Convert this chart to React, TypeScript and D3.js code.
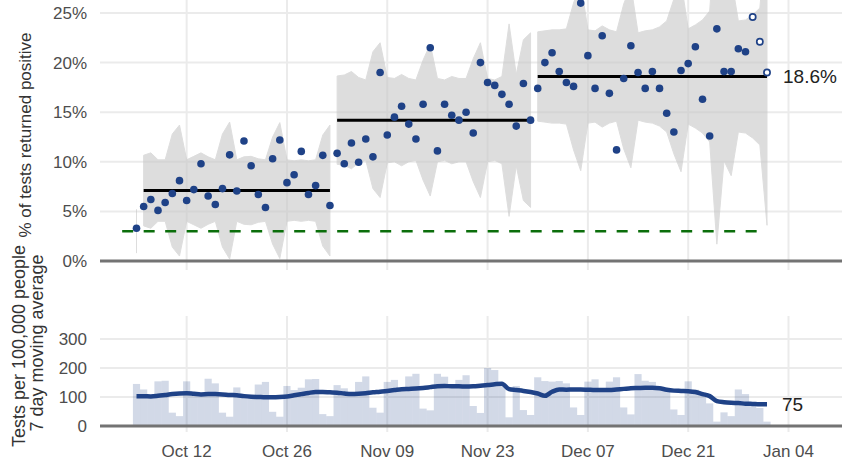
import React from "react";
import * as d3 from "d3";

// daily series, starting Oct 5 2020
const firstDay = "2020-10-05";

// % of tests returned positive
const positivity = [
  3.3, 5.5, 6.2, 5.1, 5.9, 6.8, 8.1, 6.1, 7.2, 9.8, 6.55, 5.7, 7.3, 10.7, 7.05,
  12.1, 9.6, 6.7, 5.4, 10.3, 12.2, 7.9, 8.7, 11.05, 6.7, 7.6, 10.65, 5.6, 10.85,
  9.8, 11.9, 9.95, 12.3, 10.5, 19.0, 12.7, 14.5, 15.6, 13.8, 12.3, 15.8, 21.5,
  11.1, 15.8, 14.7, 14.2, 15.0, 12.9, 20.0, 18.0, 17.7, 16.8, 15.8, 13.6, 17.9,
  14.2, 17.4, 20.0, 21.0, 19.1, 18.0, 17.6, 26.0, 20.7, 17.4, 22.7, 16.9, 11.2,
  18.4, 21.7, 19.0, 17.4, 19.1, 17.4, 14.9, 13.0, 19.2, 19.9, 21.6, 16.3, 12.6,
  23.4, 19.1, 19.1, 21.4, 21.1, 24.6, 22.1, 19.0,
];
// last few days are provisional (open circles)
const provisionalFrom = 86;

// tests per 100,000 people, daily
const dailyTests = [
  145, 126, 105, 154, 156, 46, 34, 154, 108, 106, 163, 147, 46, 32, 133, 102,
  100, 143, 152, 49, 32, 138, 124, 132, 161, 162, 41, 34, 141, 130, 108, 152,
  171, 63, 46, 152, 159, 125, 171, 180, 60, 54, 180, 170, 132, 159, 175, 69, 45,
  200, 193, 145, 30, 138, 55, 38, 168, 155, 153, 155, 147, 64, 38, 153, 161, 122,
  153, 168, 64, 40, 179, 156, 152, 128, 124, 57, 38, 154, 125, 108, 78, 15, 47,
  34, 126, 110, 75, 62, 15,
];

// 7 day moving average
const movingAvg = [
  103, 103, 102, 104, 107, 110, 112, 113, 111, 109, 110, 110, 109, 107, 106, 103,
  101, 100, 99, 99, 100, 102, 106, 110, 114, 117, 117, 116, 115, 112, 110, 111,
  113, 116, 118, 121, 124, 127, 128, 129, 131, 134, 137, 138, 137, 137, 136, 137,
  139, 141, 144, 146, 127, 124, 121, 117, 112, 104, 118, 126, 125, 126, 126, 125,
  124, 124, 124, 126, 128, 130, 131, 132, 132, 130, 125, 122, 121, 120, 117, 110,
  103, 86, 82, 80, 79, 77, 76, 75, 75,
];

// process segments: first day index, centre line, control-limit half widths
const segStart = [0, 1, 28, 56];
const segMean = [3.0, 7.1, 14.2, 18.6];
const seg0Half = [2.2];
const seg1Half = [
  3.56, 3.8, 3.1, 3.1, 5.7, 6.6, 3.1, 3.45, 3.8, 3.4, 3.1, 5.7, 6.9, 3.1, 3.4,
  3.45, 3.2, 3.1, 5.4, 6.85, 3.1, 3.0, 3.1, 3.0, 3.1, 5.6, 6.6,
];
const seg2Half = [
  4.45, 4.55, 4.9, 4.3, 4.05, 6.9, 7.8, 4.3, 4.2, 4.6, 4.2, 4.05, 6.05, 7.65,
  4.2, 4.05, 4.4, 4.2, 4.2, 6.2, 7.8, 4.2, 4.05, 4.4, 9.7, 4.6, 8.1, 8.8,
];
const seg3Half = [
  4.5, 4.6, 4.7, 4.7, 4.8, 7.4, 9.5, 4.7, 4.6, 5.1, 4.7, 4.5, 7.3, 9.2, 4.4, 4.6,
  4.7, 5.0, 5.6, 7.8, 9.6, 4.8, 5.2, 5.7, 6.6, 16.9, 8.5, 10.0, 5.6, 5.7, 6.2,
  6.9, 15.0,
];
const segHalf = [seg0Half, seg1Half, seg2Half, seg3Half];

// target line
const targetValue = 3;
const targetRange = ["2020-10-03", "2020-12-31"];

const xTickDates = [
  "2020-10-12", "2020-10-26", "2020-11-09", "2020-11-23",
  "2020-12-07", "2020-12-21", "2021-01-04",
];
const topTicks = [0, 5, 10, 15, 20, 25];
const bottomTicks = [0, 100, 200, 300];

const font = "Liberation Sans, Arial, Helvetica, sans-serif";
const blue = "#1f4287";
const gridColor = "#ebebeb";
const axisColor = "#737373";
const tickColor = "#4d4d4d";

const DAY = 86400000;
const parse = d3.utcParse("%Y-%m-%d");
const fmt = d3.utcFormat("%b %d");

export default function App() {
  const width = 842;
  const height = 475;
  const plotLeft = 100;

  const t0 = parse(firstDay)!.getTime();
  const dates = positivity.map((_, i) => new Date(t0 + i * DAY));

  const x = d3
    .scaleUtc()
    .domain([parse("2020-10-05")!, parse("2021-01-04")!])
    .range([136.5, 788.5]);
  const dayW = x(new Date(t0 + DAY)) - x(new Date(t0));

  const yTop = d3.scaleLinear().domain([0, 25]).range([261, 13]);
  const yBot = d3.scaleLinear().domain([0, 300]).range([426, 339]);

  const band = d3
    .area<{ d: Date; lo: number; hi: number }>()
    .x((p) => x(p.d))
    .y0((p) => yTop(p.lo))
    .y1((p) => yTop(p.hi));

  const maLine = d3
    .line<number>()
    .x((_, i) => x(dates[i]))
    .y((v) => yBot(v))
    .curve(d3.curveMonotoneX);

  const segs = segStart.map((s, k) => {
    const half = segHalf[k];
    const pts = half.map((h, j) => ({
      d: dates[s + j],
      lo: segMean[k] - h,
      hi: segMean[k] + h,
    }));
    return { start: dates[s], end: dates[s + half.length - 1], mean: segMean[k], pts };
  });

  const lastSeg = segs[segs.length - 1];
  const lastIdx = movingAvg.length - 1;

  return (
    <svg
      width={width}
      height={height}
      style={{ position: "absolute", left: 0, top: 0, background: "#fff" }}
      fontFamily={font}
    >
      {/* ---------- top panel ---------- */}
      <g>
        {xTickDates.map((s) => (
          <line
            key={"tv" + s}
            x1={x(parse(s)!)}
            x2={x(parse(s)!)}
            y1={0}
            y2={270}
            stroke={gridColor}
            strokeWidth={2}
          />
        ))}
        {topTicks
          .filter((t) => t > 0)
          .map((t) => (
            <line
              key={"th" + t}
              x1={plotLeft}
              x2={width}
              y1={yTop(t)}
              y2={yTop(t)}
              stroke={gridColor}
              strokeWidth={2}
            />
          ))}
        {segs.map((s, k) => (
          <path
            key={"band" + k}
            d={band(s.pts) || ""}
            fill="#c8c8c8"
            stroke="#c8c8c8"
            strokeWidth={1}
            opacity={0.6}
          />
        ))}
        <line
          x1={x(parse(targetRange[0])!)}
          x2={x(parse(targetRange[1])!)}
          y1={yTop(targetValue)}
          y2={yTop(targetValue)}
          stroke="#0b6e0b"
          strokeWidth={2.6}
          strokeDasharray="11 10.5"
        />
        {segs.map((s, k) => (
          <line
            key={"mean" + k}
            x1={x(s.start)}
            x2={x(s.end)}
            y1={yTop(s.mean)}
            y2={yTop(s.mean)}
            stroke="#000"
            strokeWidth={3}
          />
        ))}
        <line
          x1={plotLeft}
          x2={width}
          y1={yTop(0)}
          y2={yTop(0)}
          stroke={axisColor}
          strokeWidth={3}
        />
        {positivity.map((v, i) =>
          i >= provisionalFrom ? (
            <circle
              key={"p" + i}
              cx={x(dates[i])}
              cy={yTop(v)}
              r={3.1}
              fill="#fff"
              stroke={blue}
              strokeWidth={1.7}
            />
          ) : (
            <circle key={"p" + i} cx={x(dates[i])} cy={yTop(v)} r={3.8} fill={blue} />
          )
        )}
        <text
          x={x(lastSeg.end) + 16}
          y={yTop(lastSeg.mean) + 7}
          fontSize={19}
          fill="#222"
        >
          {lastSeg.mean.toFixed(1) + "%"}
        </text>
        {topTicks.map((t) => (
          <text
            key={"tl" + t}
            x={87}
            y={yTop(t) + 6}
            fontSize={17}
            fill={tickColor}
            textAnchor="end"
          >
            {t + "%"}
          </text>
        ))}
        <text
          transform="translate(31,135) rotate(-90)"
          fontSize={17}
          fill="#333"
          textAnchor="middle"
        >
          % of tests returned positive
        </text>
      </g>

      {/* ---------- bottom panel ---------- */}
      <g>
        {xTickDates.map((s) => (
          <line
            key={"bv" + s}
            x1={x(parse(s)!)}
            x2={x(parse(s)!)}
            y1={316}
            y2={432}
            stroke={gridColor}
            strokeWidth={2}
          />
        ))}
        {bottomTicks
          .filter((t) => t > 0)
          .map((t) => (
            <line
              key={"bh" + t}
              x1={plotLeft}
              x2={width}
              y1={yBot(t)}
              y2={yBot(t)}
              stroke={gridColor}
              strokeWidth={2}
            />
          ))}
        {dailyTests.map((v, i) => (
          <rect
            key={"b" + i}
            x={x(dates[i]) - dayW / 2}
            width={dayW}
            y={yBot(v)}
            height={yBot(0) - yBot(v)}
            fill={blue}
            fillOpacity={0.2}
          />
        ))}
        <line
          x1={plotLeft}
          x2={width}
          y1={yBot(0)}
          y2={yBot(0)}
          stroke={axisColor}
          strokeWidth={3}
        />
        <path
          d={maLine(movingAvg) || ""}
          fill="none"
          stroke={blue}
          strokeWidth={4.5}
          strokeLinejoin="round"
        />
        <text
          x={x(dates[lastIdx]) + 15}
          y={yBot(movingAvg[lastIdx]) + 7}
          fontSize={19}
          fill="#222"
        >
          {movingAvg[lastIdx]}
        </text>
        {bottomTicks.map((t) => (
          <text
            key={"bl" + t}
            x={87}
            y={yBot(t) + 6}
            fontSize={17}
            fill={tickColor}
            textAnchor="end"
          >
            {t}
          </text>
        ))}
        <text transform="translate(25,346) rotate(-90)" fontSize={18} fill="#333" textAnchor="middle">
          Tests per 100,000 people
        </text>
        <text transform="translate(43,343) rotate(-90)" fontSize={18} fill="#333" textAnchor="middle">
          7 day moving average
        </text>
        {xTickDates.map((s) => (
          <text
            key={"xl" + s}
            x={x(parse(s)!)}
            y={457}
            fontSize={17}
            fill={tickColor}
            textAnchor="middle"
          >
            {fmt(parse(s)!)}
          </text>
        ))}
      </g>
    </svg>
  );
}
